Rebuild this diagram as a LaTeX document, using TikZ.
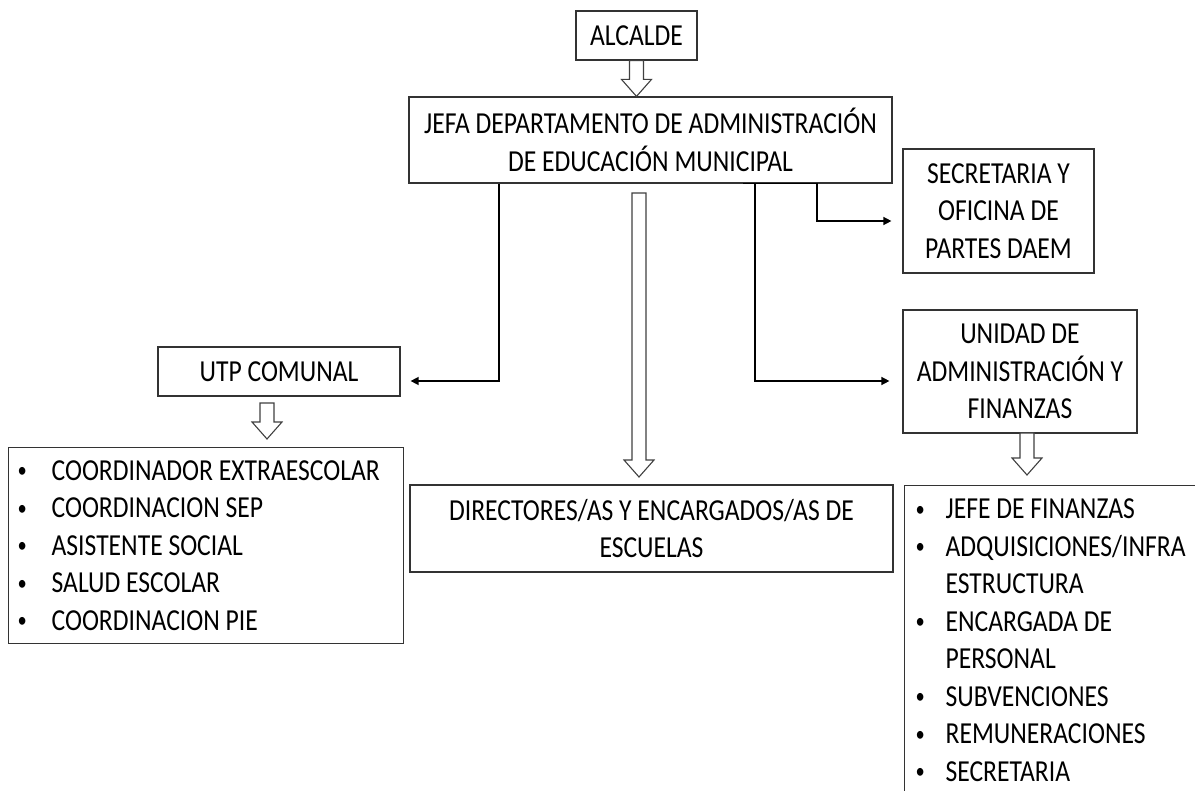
\documentclass[tikz,border=0pt]{standalone}
\usepackage{fontspec}
\setmainfont{Carlito}[FakeStretch=0.84]
\usetikzlibrary{arrows.meta,calc}

\newcommand{\itm}[1][34pt]{\makebox[#1][l]{\raisebox{2.5pt}{\fontsize{22}{22}\selectfont\textbullet}}}

\tikzset{
  box/.style={draw=black!80, line width=1.2pt, inner sep=0pt, align=center},
  conn/.style={draw=black, line width=1.4pt, -{Triangle[length=8pt,width=8pt]}},
  hollow/.style={draw=black!75, line width=1.1pt, fill=white},
}

% hollow block arrow from (#1) down to its tip (#2)
\newcommand{\blockarrow}[2]{%
  \draw[hollow] let \p1=(#1), \p2=(#2) in
    (\x2-7pt,\y1) -- (\x2-7pt,\y2+17pt) -- (\x2-15pt,\y2+17pt) -- (\x2,\y2)
    -- (\x2+15pt,\y2+17pt) -- (\x2+7pt,\y2+17pt) -- (\x2+7pt,\y1) -- cycle;}

\begin{document}
\begin{tikzpicture}[x=1pt,y=-1pt,font=\fontsize{30.5}{37.5}\selectfont]
    \clip (0,0) rectangle (1195,791);

    \node[box, minimum width=121pt, minimum height=49pt] (alcalde) at (636.5,35.5) {ALCALDE};
    \node[box, minimum width=483pt, minimum height=86pt] (jefa) at (650.5,140)
        {JEFA DEPARTAMENTO DE ADMINISTRACIÓN\\DE EDUCACIÓN MUNICIPAL};
    \node[box, minimum width=191pt, minimum height=124pt] (sec) at (998.5,211)
        {SECRETARIA Y\\OFICINA DE\\PARTES DAEM};
    \node[box, minimum width=234pt, minimum height=123pt] (unidad) at (1020,371.5)
        {UNIDAD DE\\ADMINISTRACIÓN Y\\FINANZAS};
    \node[box, minimum width=242pt, minimum height=49pt] (utp) at (279,371.5) {UTP COMUNAL};
    \node[box, minimum width=483pt, minimum height=87pt] (dir) at (651.5,528.5)
        {DIRECTORES/AS Y ENCARGADOS/AS DE\\ESCUELAS};

    \node[box, anchor=north west, align=flush left, text width=377pt, inner xsep=9pt,
          minimum height=196pt] (utplist) at (8,447)
        {\itm COORDINADOR EXTRAESCOLAR\\
         \itm COORDINACION SEP\\
         \itm ASISTENTE SOCIAL\\
         \itm SALUD ESCOLAR\\
         \itm COORDINACION PIE};
    \node[box, anchor=north west, align=flush left, text width=300pt, inner xsep=11pt,
          minimum height=309pt] (fin) at (904,485)
        {\itm[30pt]JEFE DE FINANZAS\\
         \itm[30pt]ADQUISICIONES/INFRA\\
         \hspace*{30pt}ESTRUCTURA\\
         \itm[30pt]ENCARGADA DE\\
         \hspace*{30pt}PERSONAL\\
         \itm[30pt]SUBVENCIONES\\
         \itm[30pt]REMUNERACIONES\\
         \itm[30pt]SECRETARIA};

    % connectors
    \coordinate (l1) at (499,0);
    \coordinate (r1) at (755,0);
    \coordinate (s1) at (743,0);
    \coordinate (s2) at (817,0);
    \draw[conn, shorten >=10pt] (jefa.south -| l1) |- ([yshift=-9.5pt]utp.east);
    \draw[conn, shorten >=13pt] (jefa.south -| r1) |- ([yshift=-9.5pt]unidad.west);
    \draw[conn, shorten >=11pt] (jefa.south -| s1) -- (jefa.south -| s2) |- ([yshift=-10pt]sec.west);

    % block arrows
    \coordinate (m1) at (639,193);
    \coordinate (m2) at (639,477);
    \coordinate (u1) at (267,403);
    \coordinate (u2) at (267,439);
    \coordinate (f1) at (1027,433);
    \coordinate (f2) at (1027,475);
    \blockarrow{alcalde.south}{alcalde.south |- jefa.north}
    \blockarrow{m1}{m2}
    \blockarrow{u1}{u2}
    \blockarrow{f1}{f2}
\end{tikzpicture}
\end{document}
